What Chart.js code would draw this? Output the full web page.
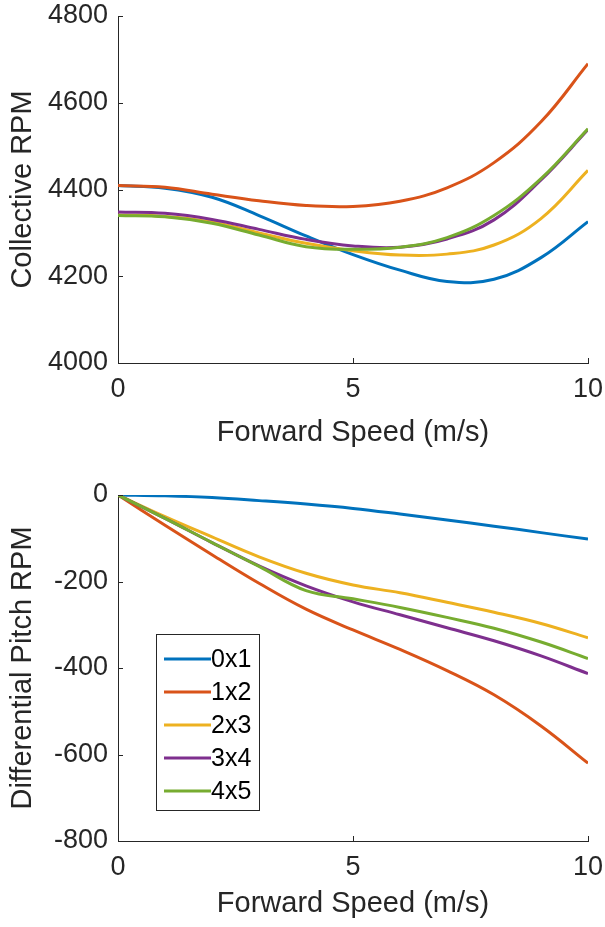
<!DOCTYPE html>
<html>
<head>
<meta charset="utf-8">
<script src="https://cdn.jsdelivr.net/npm/chart.js@4"></script>
<style>
  html, body { margin: 0; padding: 0; background: #ffffff; }
  body { width: 605px; height: 927px; position: relative; overflow: hidden; }
  canvas { position: absolute; left: 0; }
  #top { top: 0; }
  #bottom { top: 463px; }
</style>
</head>
<body>
<canvas id="top" width="605" height="463"></canvas>
<canvas id="bottom" width="605" height="464"></canvas>
<script>
// ---- data ----
const speeds = [0, 1, 2, 3, 4, 5, 6, 7, 8, 9, 10];
const seriesNames = ['0x1', '1x2', '2x3', '3x4', '4x5'];

const collective0x1 = [4409, 4403, 4382, 4340, 4293, 4250, 4214, 4188, 4193, 4243, 4326];
const collective1x2 = [4409, 4405, 4389, 4374, 4363, 4361, 4373, 4404, 4462, 4556, 4690];
const collective2x3 = [4341, 4338, 4325, 4300, 4276, 4259, 4249, 4251, 4272, 4333, 4444];
const collective3x4 = [4348, 4345, 4331, 4308, 4285, 4270, 4267, 4286, 4330, 4422, 4538];
const collective4x5 = [4340, 4337, 4322, 4295, 4268, 4262, 4267, 4289, 4340, 4425, 4540];

const diff0x1 = [0, -2, -6, -13, -21, -31, -44, -58, -72, -87, -102];
const diff1x2 = [0, -70, -138, -204, -264, -312, -357, -406, -462, -534, -620];
const diff2x3 = [0, -50, -97, -143, -181, -208, -226, -248, -271, -297, -330];
const diff3x4 = [0, -54, -110, -164, -210, -247, -277, -307, -337, -372, -413];
const diff4x5 = [0, -54, -110, -165, -221, -240, -260, -283, -308, -340, -378];

const xTicks = [0, 5, 10];
const yTicksTop = [4000, 4200, 4400, 4600, 4800];
const yTicksBottom = [-800, -600, -400, -200, 0];

// ---- styles ----
const colors = ['#0072BD', '#D95319', '#EDB120', '#7E2F8E', '#77AC30'];
const axisColor = '#262626';
const fontFamily = '"Liberation Sans", Arial, Helvetica, sans-serif';

function makeDatasets(seriesList) {
  return seriesList.map((vals, i) => ({
    label: seriesNames[i],
    data: speeds.map((s, k) => ({ x: s, y: vals[k] })),
    borderColor: colors[i],
    backgroundColor: colors[i],
    borderWidth: 3,
    pointRadius: 0,
    fill: false,
    tension: 0.4,
    order: seriesList.length - 1 - i
  }));
}

function zeroPad(s) {
  s.paddingTop = 0; s.paddingBottom = 0; s.paddingLeft = 0; s.paddingRight = 0;
}

// inward tick marks (MATLAB style)
const inwardTicks = {
  id: 'inwardTicks',
  afterDatasetsDraw(chart) {
    const ctx = chart.ctx;
    const xs = chart.scales.x, ys = chart.scales.y;
    const area = chart.chartArea;
    ctx.save();
    ctx.strokeStyle = axisColor;
    ctx.lineWidth = 1;
    ctx.beginPath();
    xs.ticks.forEach(t => {
      const px = Math.round(xs.getPixelForValue(t.value)) + 0.5;
      ctx.moveTo(px, area.bottom);
      ctx.lineTo(px, area.bottom - 5);
    });
    ys.ticks.forEach(t => {
      const py = Math.round(ys.getPixelForValue(t.value)) + 0.5;
      ctx.moveTo(area.left, py);
      ctx.lineTo(area.left + 5, py);
    });
    ctx.stroke();
    ctx.restore();
  }
};

// boxed legend inside the lower plot
const boxLegend = {
  id: 'boxLegend',
  afterDatasetsDraw(chart, args, opts) {
    if (!opts || !opts.show) return;
    const ctx = chart.ctx;
    const area = chart.chartArea;
    const bx = area.left + 38, by = area.top + 139, bw = 103, bh = 176;
    ctx.save();
    ctx.fillStyle = '#ffffff';
    ctx.fillRect(bx, by, bw, bh);
    ctx.strokeStyle = axisColor;
    ctx.lineWidth = 1;
    ctx.strokeRect(Math.round(bx) + 0.5, Math.round(by) + 0.5, bw, bh);
    ctx.font = '25px ' + fontFamily;
    ctx.textBaseline = 'middle';
    ctx.fillStyle = '#000000';
    chart.data.datasets.forEach((ds, i) => {
      const y = by + 25 + i * 33;
      ctx.strokeStyle = ds.borderColor;
      ctx.lineWidth = 3;
      ctx.beginPath();
      ctx.moveTo(bx + 8, y);
      ctx.lineTo(bx + 55, y);
      ctx.stroke();
      ctx.fillText(ds.label, bx + 55, y + 1);
    });
    ctx.restore();
  }
};

function makeChart(id, datasets, yMin, yMax, yTicks, yTitle, padTop, xHeight, xTitlePad, showLegend) {
  return new Chart(document.getElementById(id), {
    type: 'line',
    data: { datasets },
    options: {
      responsive: false,
      animation: false,
      events: [],
      layout: { padding: { top: padTop, right: 17, left: 0, bottom: 0 } },
      plugins: {
        legend: { display: false },
        tooltip: { enabled: false },
        boxLegend: { show: showLegend }
      },
      scales: {
        x: {
          type: 'linear',
          min: 0, max: 10,
          afterBuildTicks: s => { s.ticks = xTicks.map(v => ({ value: v })); },
          afterFit: s => { s.height = xHeight; zeroPad(s); },
          grid: { display: false, drawTicks: false },
          border: { display: true, color: axisColor, width: 1 },
          ticks: {
            color: axisColor, padding: 10, maxRotation: 0,
            font: { family: fontFamily, size: 27 },
            callback: v => String(v)
          },
          title: {
            display: true, text: 'Forward Speed (m/s)', color: axisColor,
            font: { family: fontFamily, size: 29 }, padding: { top: 0, bottom: xTitlePad }
          }
        },
        y: {
          type: 'linear',
          min: yMin, max: yMax,
          afterBuildTicks: s => { s.ticks = yTicks.map(v => ({ value: v })); },
          afterFit: s => { s.width = 118; zeroPad(s); },
          grid: { display: false, drawTicks: false },
          border: { display: true, color: axisColor, width: 1 },
          ticks: {
            color: axisColor, padding: 10,
            font: { family: fontFamily, size: 27 },
            callback: v => String(v)
          },
          title: {
            display: true, text: yTitle, color: axisColor,
            font: { family: fontFamily, size: 29 }, padding: { top: 6, bottom: 0 }
          }
        }
      }
    },
    plugins: [inwardTicks, boxLegend]
  });
}

makeChart('top',
  makeDatasets([collective0x1, collective1x2, collective2x3, collective3x4, collective4x5]),
  4000, 4800, yTicksTop, 'Collective RPM', 16, 100, 13, false);

makeChart('bottom',
  makeDatasets([diff0x1, diff1x2, diff2x3, diff3x4, diff4x5]),
  -800, 0, yTicksBottom, 'Differential Pitch RPM', 32, 86, 6, true);
</script>
</body>
</html>
